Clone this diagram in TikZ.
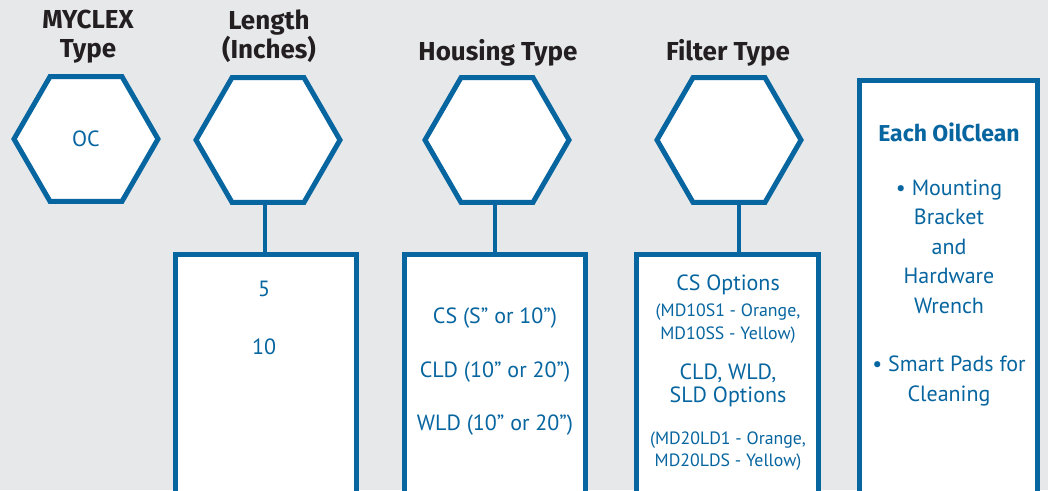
\documentclass[tikz,border=0pt]{standalone}
\usepackage{fontspec}
\setmainfont{PT Sans}
\newfontfamily\titlefont{Fira Sans}
\usetikzlibrary{shapes.geometric,calc}
\definecolor{bg}{HTML}{E7E8EA}
\definecolor{myblue}{HTML}{0765A0}
\definecolor{ttl}{HTML}{231F20}
\begin{document}
\begin{tikzpicture}[x=1pt,y=-1pt,
 hexnode/.style={regular polygon, regular polygon sides=6, minimum size=144pt, inner sep=0pt, outer sep=0pt, draw=myblue, line width=5pt, fill=white, text=myblue, font=\fontsize{22}{26}\selectfont},
 boxnode/.style={rectangle, draw=myblue, line width=5pt, fill=white, inner sep=0pt, outer sep=0pt, anchor=north, minimum height=300pt},
 conn/.style={draw=myblue, line width=4pt},
 title/.style={text=ttl, font=\titlefont\fontsize{26}{29}\selectfont\bfseries, align=center, anchor=base, inner sep=0pt},
 btext/.style={text=myblue, font=\fontsize{22}{29.5}\selectfont, align=center, anchor=base, inner sep=0pt},
 stext/.style={text=myblue, font=\fontsize{17.8}{23}\selectfont, align=center, anchor=base, inner sep=0pt}]
\fill[bg] (0,0) rectangle (1048,490);
\useasboundingbox (0,0) rectangle (1048,490);
\clip (0,0) rectangle (1048,490);
% titles (base = last line)
\node[title] (t1) at (88,57.3) {MYCLEX\\Type};
\node[title] (t2) at (269,58.3) {Length\\(Inches)};
\node[title] (t3) at (498,60) {Housing Type};
\node[title] (t4) at (728,60) {Filter Type};
% hexagons
\node[hexnode] (hexA) at (86,139) {OC};
\node[hexnode] (hexB) at (268,140) {};
\node[hexnode] (hexC) at (497,140) {};
\node[hexnode] (hexD) at (729,140) {};
% boxes
\node[boxnode, minimum width=181pt] (boxB) at (266,254.5) {};
\node[boxnode, minimum width=181pt] (boxC) at (495,254.5) {};
\node[boxnode, minimum width=182pt] (boxD) at (727.5,254.5) {};
\node[boxnode, minimum width=178pt, minimum height=450pt] (boxE) at (948.5,80.5) {};
% connectors
\draw[conn] ([xshift=-3pt]hexB.south) -- ([xshift=-3pt]hexB.south |- boxB.north);
\draw[conn] ([xshift=-2pt]hexC.south) -- ([xshift=-2pt]hexC.south |- boxC.north);
\draw[conn] ([xshift=10pt]hexD.south) -- ([xshift=10pt]hexD.south |- boxD.north);
% length
\node[btext] (l5) at (264,296.5) {5};
\node[btext] (l10) at (264,354.5) {10};
% housing
\node[btext] (h1) at (495,323.5) {CS (S” or 10”)};
\node[btext] (h2) at (495,377.5) {CLD (10” or 20”)};
\node[btext] (h3) at (495,430.5) {WLD (10” or 20”)};
% filter
\node[btext] (f1) at (728,290.7) {CS Options};
\node[stext] (f2) at (728,339) {(MD10S1 - Orange,\\MD10SS - Yellow)};
\node[btext, font=\fontsize{22}{23.7}\selectfont] (f3) at (728,402.7) {CLD, WLD,\\SLD Options};
\node[stext, font=\fontsize{17.8}{22.7}\selectfont] (f4) at (728,466.7) {(MD20LD1 - Orange,\\MD20LDS - Yellow)};
% right box
\node[btext, font=\titlefont\fontsize{23}{26}\selectfont\bfseries] (e1) at (949,141.7) {Each OilClean};
\node[btext] (e2) at (949,313.3) {• Mounting\\Bracket\\and\\Hardware\\Wrench};
\node[btext, font=\fontsize{22}{30}\selectfont] (e3) at (949,401.7) {• Smart Pads for\\Cleaning};
\end{tikzpicture}
\end{document}
